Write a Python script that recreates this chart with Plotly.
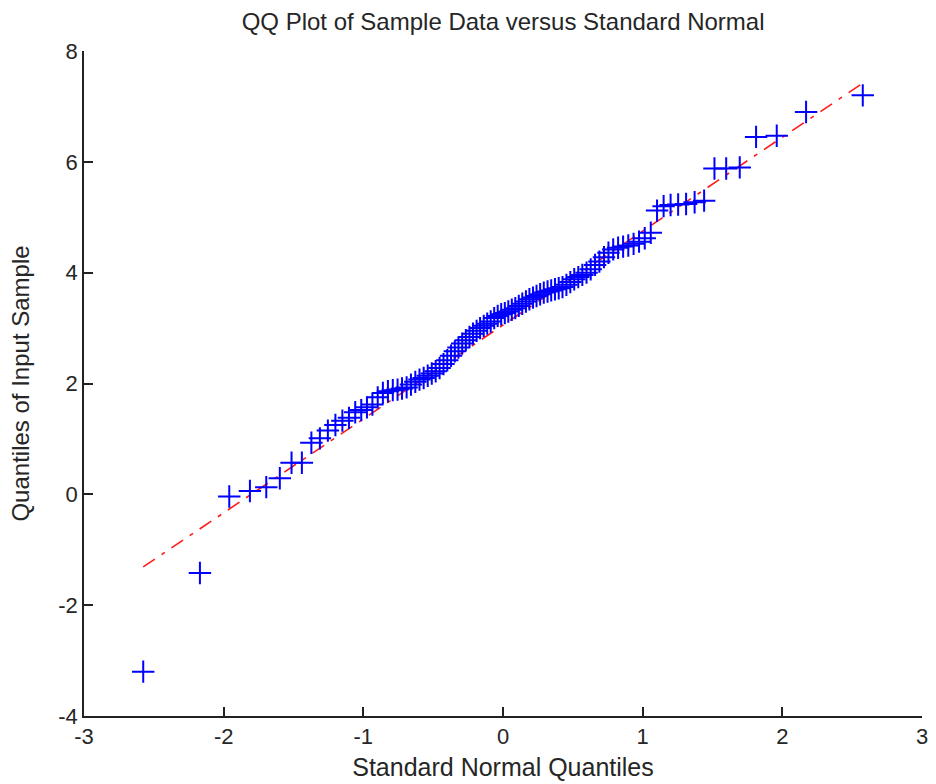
import plotly.graph_objects as go

# Standard normal quantiles (x) (100 points)
x_quantiles = [
    -2.576, -2.170, -1.960, -1.812, -1.695, -1.598, -1.514, -1.440, -1.372, -1.311,
    -1.254, -1.200, -1.150, -1.103, -1.058, -1.015, -0.974, -0.935, -0.897, -0.860,
    -0.824, -0.789, -0.755, -0.723, -0.690, -0.659, -0.628, -0.598, -0.568, -0.539,
    -0.510, -0.482, -0.454, -0.426, -0.399, -0.372, -0.345, -0.319, -0.292, -0.266,
    -0.240, -0.215, -0.189, -0.164, -0.138, -0.113, -0.088, -0.063, -0.038, -0.013,
    0.013, 0.038, 0.063, 0.088, 0.113, 0.138, 0.164, 0.189, 0.215, 0.240,
    0.266, 0.292, 0.319, 0.345, 0.372, 0.399, 0.426, 0.454, 0.482, 0.510,
    0.539, 0.568, 0.598, 0.628, 0.659, 0.690, 0.723, 0.755, 0.789, 0.824,
    0.860, 0.897, 0.935, 0.974, 1.015, 1.058, 1.103, 1.150, 1.200, 1.254,
    1.311, 1.372, 1.440, 1.514, 1.598, 1.695, 1.812, 1.960, 2.170, 2.576,
]

# Sample quantiles (y)
y_sample = [
    -3.20, -1.42, -0.04, 0.06, 0.13, 0.29, 0.57, 0.57, 0.93, 1.01,
    1.15, 1.25, 1.33, 1.38, 1.48, 1.52, 1.57, 1.62, 1.75, 1.83,
    1.86, 1.88, 1.89, 1.91, 1.93, 1.98, 2.03, 2.07, 2.10, 2.14,
    2.18, 2.22, 2.28, 2.35, 2.42, 2.50, 2.58, 2.65, 2.72, 2.78,
    2.84, 2.90, 2.95, 3.00, 3.04, 3.08, 3.12, 3.18, 3.22, 3.25,
    3.27, 3.30, 3.33, 3.36, 3.40, 3.44, 3.48, 3.52, 3.55, 3.58,
    3.61, 3.64, 3.66, 3.68, 3.70, 3.72, 3.74, 3.78, 3.83, 3.88,
    3.92, 3.96, 4.00, 4.06, 4.14, 4.20, 4.28, 4.36, 4.42, 4.45,
    4.47, 4.49, 4.52, 4.56, 4.62, 4.72, 5.12, 5.20, 5.22, 5.23,
    5.24, 5.27, 5.30, 5.88, 5.88, 5.90, 6.45, 6.47, 6.90, 7.20,
]

# Reference line endpoints
line_x = [-2.576, 2.576]
line_y = [-1.31, 7.42]

x_ticks = [-3, -2, -1, 0, 1, 2, 3]
y_ticks = [-4, -2, 0, 2, 4, 6, 8]

font_family = "Liberation Sans, Arial, sans-serif"
text_color = "#262626"

fig = go.Figure()
fig.add_trace(go.Scatter(
    x=line_x, y=line_y, mode="lines",
    line=dict(color="#ff1a1a", width=1.6, dash="14px,8px,4px,8px"),
    showlegend=False, hoverinfo="skip",
))
fig.add_trace(go.Scatter(
    x=x_quantiles, y=y_sample, mode="markers",
    marker=dict(symbol="cross-thin", size=16,
                line=dict(color="#0000ff", width=2), color="#0000ff"),
    showlegend=False,
))

fig.update_layout(
    width=936, height=784,
    margin=dict(l=84, r=14, t=51, b=68),
    paper_bgcolor="white", plot_bgcolor="white",
    font=dict(family=font_family, color=text_color, size=22),
    title=dict(text="QQ Plot of Sample Data versus Standard Normal",
               x=0.5375, xanchor="center", y=0.972, yanchor="middle",
               font=dict(size=24, family=font_family, color=text_color)),
    xaxis=dict(
        range=[-3, 3], tickvals=x_ticks, ticktext=[str(v) for v in x_ticks],
        ticks="inside", ticklen=9, tickwidth=1.5, tickcolor="#222",
        showline=True, linecolor="#222", linewidth=1.5, mirror=False,
        showgrid=False, zeroline=False, automargin=False,
        title=dict(text="Standard Normal Quantiles", standoff=10,
                   font=dict(size=25)),
        tickfont=dict(size=22),
    ),
    yaxis=dict(
        range=[-4, 8], tickvals=y_ticks, ticktext=[str(v) for v in y_ticks],
        ticks="inside", ticklen=9, tickwidth=1.5, tickcolor="#222",
        showline=True, linecolor="#222", linewidth=1.5, mirror=False,
        showgrid=False, zeroline=False, automargin=False,
        title=dict(text="Quantiles of Input Sample", standoff=22,
                   font=dict(size=24)),
        tickfont=dict(size=22),
    ),
)

fig.write_html("out.html")
